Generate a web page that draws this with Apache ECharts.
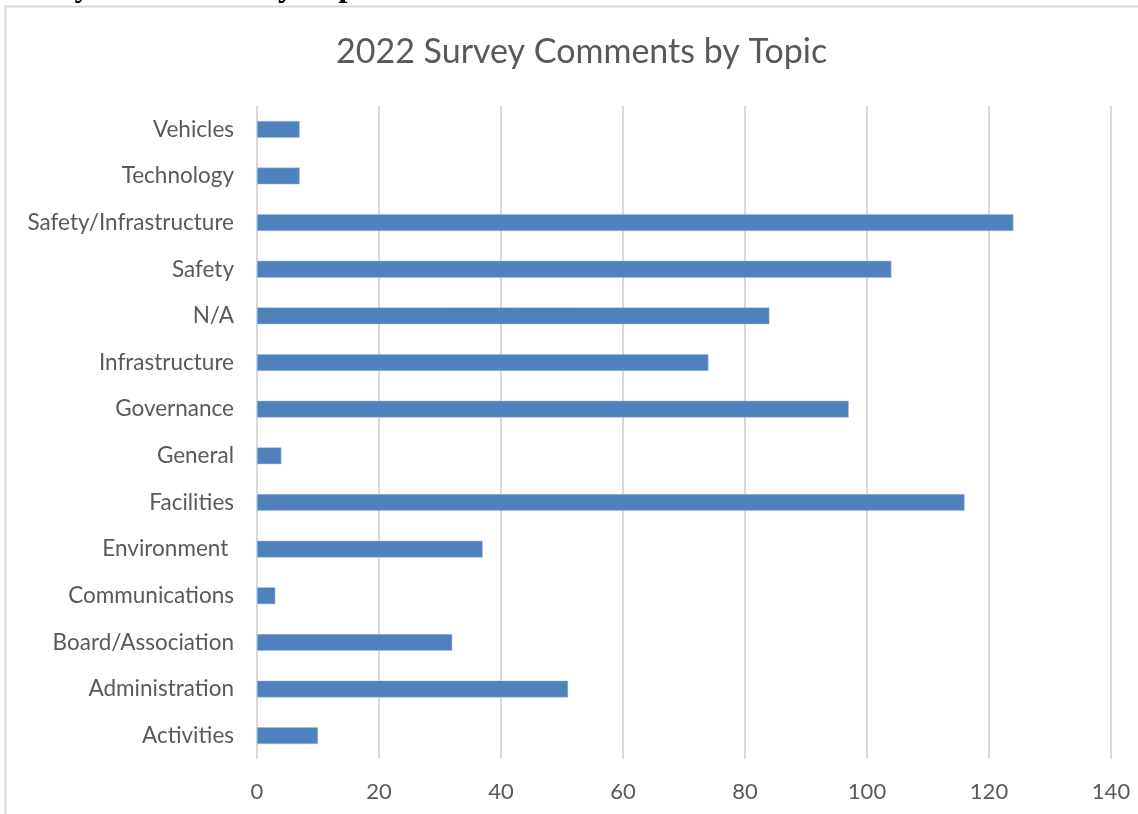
<!DOCTYPE html>
<html>
<head>
<meta charset="utf-8">
<script src="https://cdn.jsdelivr.net/npm/echarts@6/dist/echarts.min.js"></script>
<style>
  html, body { margin: 0; padding: 0; background: #fff; overflow: hidden; }
  #chart { width: 1138px; height: 814px; }
</style>
</head>
<body>
<div id="chart"></div>
<script>
// data (bottom to top, as the axis draws them)
var topics = ['Activities', 'Administration', 'Board/Association', 'Communications', 'Environment ',
    'Facilities', 'General', 'Governance', 'Infrastructure', 'N/A', 'Safety',
    'Safety/Infrastructure', 'Technology', 'Vehicles'];
var comments = [10, 51, 32, 3, 37, 116, 4, 97, 74, 84, 104, 124, 7, 7];
var xTicks = [0, 20, 40, 60, 80, 100, 120, 140];

var chartDom = document.getElementById('chart');
var myChart = echarts.init(chartDom);

var option = {
    backgroundColor: '#ffffff',
    animation: false,
    title: {
        text: '2022 Survey Comments by Topic',
        left: 331,
        top: 30,
        textStyle: {
            fontFamily: 'Lato',
            fontSize: 34,
            fontWeight: 'normal',
            color: '#595959'
        }
    },
    graphic: [
        {
            // chart frame (runs off the right and bottom of the picture)
            type: 'rect',
            silent: true,
            shape: { x: 5.5, y: 6.5, width: 1300, height: 1000 },
            style: { fill: null, stroke: '#d9d9d9', lineWidth: 2 }
        },
        {
            // bottom of a heading above the chart, cut off by the picture
            type: 'text',
            silent: true,
            x: -8,
            y: -29,
            style: {
                text: 'Survey Comments by Topic',
                font: 'bold 33px "Liberation Serif"',
                fill: '#000000'
            }
        }
    ],
    grid: {
        left: 257,
        right: 27,
        top: 106,
        bottom: 55,
        containLabel: false
    },
    xAxis: {
        type: 'value',
        min: 0,
        max: xTicks[xTicks.length - 1],
        interval: xTicks[1] - xTicks[0],
        axisLine: { show: false },
        axisTick: { show: false },
        axisLabel: {
            margin: 22,
            fontFamily: 'Lato',
            fontSize: 22,
            color: '#595959'
        },
        splitLine: {
            show: true,
            lineStyle: { color: '#d9d9d9', width: 2 }
        }
    },
    yAxis: {
        type: 'category',
        data: topics,
        axisLine: { show: false },
        axisTick: { show: false },
        axisLabel: {
            margin: 23,
            fontFamily: 'Lato',
            fontSize: 22.5,
            color: '#595959'
        },
        splitLine: { show: false }
    },
    series: [
        {
            name: 'Comments',
            type: 'bar',
            data: comments,
            barWidth: '36%',
            itemStyle: {
                color: '#4f81bd',
                borderColor: '#a7bfde',
                borderWidth: 0.5
            }
        }
    ]
};

myChart.setOption(option);
</script>
</body>
</html>
